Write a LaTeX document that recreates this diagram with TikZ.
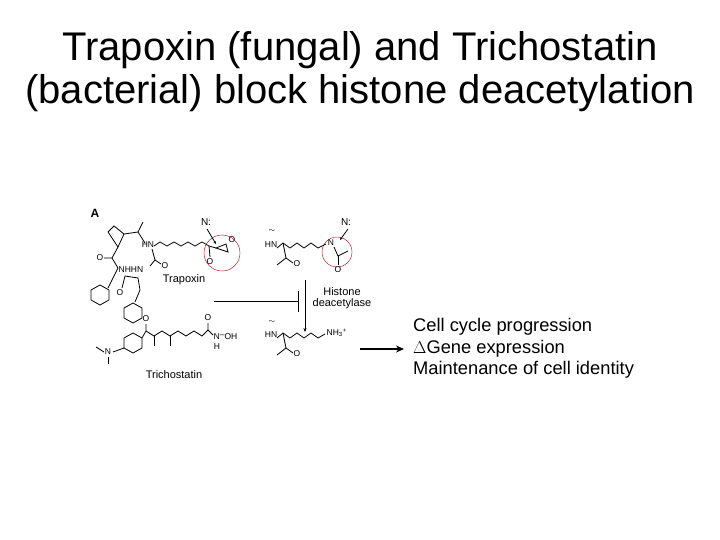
\documentclass[tikz,border=0pt]{standalone}
\usepackage{fontspec}
\setmainfont{Liberation Sans}
\usetikzlibrary{arrows.meta}
\begin{document}
\begin{tikzpicture}[x=1pt,y=-1pt,
  bond/.style={line width=0.8pt},
  lab/.style={font=\fontsize{8.5}{9}\selectfont,inner sep=0.5pt},
  big/.style={font=\fontsize{40}{44}\selectfont},
  side/.style={font=\fontsize{18.3}{20}\selectfont,anchor=west,inner sep=0}]
\useasboundingbox (0,0) rectangle (720,540);
\node[big] (t1) at (360,50) {Trapoxin (fungal) and Trichostatin};
\node[big] (t2) at (360,93) {(bacterial) block histone deacetylation};
% labels
\node[font=\bfseries\fontsize{12}{12}\selectfont] (A) at (95,213) {A};
\node[font=\fontsize{11}{12}\selectfont] (trap) at (184,280) {Trapoxin};
\node[font=\fontsize{11}{12}\selectfont] (tric) at (174,375) {Trichostatin};
\node[font=\fontsize{11}{10}\selectfont,inner sep=0] (hd1) at (342,292) {Histone};
\node[font=\fontsize{11}{10}\selectfont,inner sep=0] (hd2) at (342,304) {deacetylase};
% inhibition and arrow
\coordinate (i1) at (214,301); \coordinate (i2) at (298,301);
\draw[line width=1pt] (i1) -- (i2);
\draw[line width=1pt] (298,291) -- (298,312);
\coordinate (d1) at (305,280); \coordinate (d2) at (305,332);
\draw[-{Stealth[length=4pt]}] (d1) -- (d2);
% circles
\draw[red!70!black] (222,253) circle (18);
\draw[red!70!black] (337,252) circle (15);
% Trapoxin macrocycle
\draw[bond] (118,247) -- (124,234) -- (138,232) -- (143,222);
\draw[bond] (124,234) -- (114,226) -- (108,232) -- (118,247);
\draw[bond] (138,232) -- (145,243);
\node[lab] (hn1) at (148,245) {HN};
\draw[bond] (118,247) -- (112,258) -- (104,258);
\node[lab] (o1) at (100,258) {O};
\draw[bond] (112,258) -- (118,268) -- (112,280) -- (108,288);
\node[lab] (nh) at (131,270) {NHHN};
\draw[bond] (152,249) -- (155,260) -- (150,266);
\draw[bond] (155,260) -- (161,264);
\node[lab] (o3) at (165,266) {O};
\draw[bond] (125,276) -- (122,288); \node[lab] (o4) at (120,293) {O};
\draw[bond] (125,276) -- (138,278) -- (140,290) -- (135,302);
\draw[bond] (100,285) -- ++(9,5) -- ++(0,10) -- ++(-9,5) -- ++(-9,-5) -- ++(0,-10) -- cycle;
\draw[bond] (133,303) -- ++(9,5) -- ++(0,10) -- ++(-9,5) -- ++(-9,-5) -- ++(0,-10) -- cycle;
% trapoxin chain
\draw[bond] (154,246) -- (160,242) -- (167,246) -- (174,242) -- (181,246) -- (188,242) -- (195,246) -- (202,242) -- (209,246) -- (216,248);
\draw[bond] (209,246) -- (210,257); \node[lab] (o5) at (210,262) {O};
\draw[bond] (216,248) -- (226,244) -- (228,252) -- cycle; \node[lab] (o6) at (232,240) {O};
\node[font=\fontsize{10}{10}\selectfont] (n1) at (206,222) {N:};
\draw[bond,-{Stealth[length=3pt]}] (207,229) -- (216,244);
% Trichostatin
\draw[bond] (133,333) -- ++(9,5) -- ++(0,10) -- ++(-9,5) -- ++(-9,-5) -- ++(0,-10) -- cycle;
\draw[bond] (124,348) -- (113,352); \node[lab] (nme) at (108,352) {N};
\draw[bond] (104,352) -- (96,347); \draw[bond] (108,357) -- (108,364);
\draw[bond] (142,338) -- (146,331) -- (146,324); \node[lab] (o7) at (146,319) {O};
\draw[bond] (146,331) -- (154,336) -- (162,331) -- (170,336) -- (178,331) -- (186,336) -- (194,331) -- (202,336) -- (208,330) -- (208,323);
\node[lab] (o8) at (208,318) {O};
\draw[bond] (154,336) -- (154,346); \draw[bond] (170,336) -- (170,346);
\draw[bond] (208,330) -- (213,335);
\node[lab,anchor=west] (noh) at (213,337) {N\raisebox{2pt}{--}OH};
\node[lab] (hh) at (217,347) {H};
% lysine acetyl
\node[lab] (hn2) at (271,245) {HN};
\node[lab] (w1) at (272,231) {$\sim$};
\draw[bond] (277,248) -- (283,243) -- (290,248) -- (297,243) -- (304,248) -- (311,243) -- (318,248) -- (326,244);
\draw[bond] (283,243) -- (286,258) -- (293,263); \node[lab] (o9) at (297,264) {O};
\draw[bond] (286,258) -- (277,265);
\node[lab] (n2) at (331,243) {N};
\draw[bond] (334,247) -- (338,256) -- (348,251); \draw[bond] (338,256) -- (338,265); \node[lab] (o10) at (338,270) {O};
\node[font=\fontsize{10}{10}\selectfont] (n3) at (346,222) {N:};
\draw[bond,-{Stealth[length=3pt]}] (348,229) -- (340,240);
% lysine bottom
\node[lab] (hn3) at (271,335) {HN};
\node[lab] (w2) at (272,322) {$\sim$};
\draw[bond] (277,338) -- (283,333) -- (290,338) -- (297,333) -- (304,338) -- (311,333) -- (318,338) -- (325,334);
\node[lab,anchor=west] (nh3) at (326,333) {NH\textsubscript{3}\textsuperscript{+}};
\draw[bond] (283,333) -- (286,348) -- (293,353); \node[lab] (o11) at (297,354) {O};
\draw[bond] (286,348) -- (277,355);
% right side
\coordinate (r1) at (360,349); \coordinate (r2) at (404,349);
\draw[line width=2pt,-{Stealth[length=8pt,width=7pt]}] (r1) -- (r2);
\node[side] (s1) at (413,327) {Cell cycle progression};
\node[side] (s2) at (413,349) {$\Delta$Gene expression};
\node[side] (s3) at (413,370) {Maintenance of cell identity};
\end{tikzpicture}
\end{document}
